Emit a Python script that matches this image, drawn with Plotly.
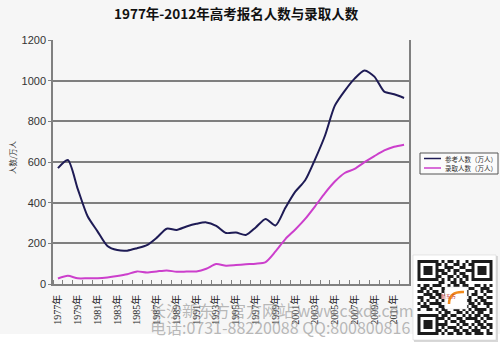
import plotly.graph_objects as go

# 1977-2012 national college entrance exam: applicants and admissions (10k people)
years = list(range(1977, 2013))
applicants = [570, 610, 468, 333, 259, 187, 167, 164, 176, 191, 228, 272,
              266, 283, 296, 303, 286, 251, 253, 241, 278, 320, 288, 375,
              454, 510, 613, 729, 877, 950, 1010, 1050, 1020, 946, 933, 915]
admitted = [27, 40, 28, 28, 28, 32, 39, 48, 62, 57, 62, 67,
            60, 61, 62, 75, 98, 90, 93, 97, 100, 108, 160, 221,
            268, 320, 382, 447, 504, 546, 566, 599, 629, 657, 675, 685]
series_names = ["参考人数（万人）", "录取人数（万人）"]
series_colors = ["#1e1b55", "#cc3fcc"]
y_ticks = [0, 200, 400, 600, 800, 1000, 1200]

W, H = 500, 346
L, R, T, B = 53, 91, 40, 62
PW, PH = W - L - R, H - T - B


def px(x):
    return (x - L) / PW


def py(y):
    return (H - B - y) / PH


idx = list(range(len(years)))
label_idx = idx[::2]
label_text = [f"{years[i]}年" for i in label_idx]

fig = go.Figure()
for vals, name, color in zip([applicants, admitted], series_names, series_colors):
    fig.add_trace(go.Scatter(x=idx, y=vals, mode="lines", name=name,
                             line=dict(color=color, width=2, shape="spline", smoothing=0.7),
                             showlegend=False))

shapes = []
annotations = []

# white strip at the bottom of the page
shapes.append(dict(type="rect", xref="paper", yref="paper", layer="below",
                   x0=px(0), x1=px(W), y0=py(334), y1=py(H),
                   fillcolor="white", line=dict(width=0)))

# legend box
shapes.append(dict(type="rect", xref="paper", yref="paper",
                   x0=px(420), x1=px(498), y0=py(153), y1=py(174),
                   fillcolor="#fbfbfb", line=dict(color="#555555", width=1)))
for k, (name, color) in enumerate(zip(series_names, series_colors)):
    yy = 158.5 + k * 9.5
    shapes.append(dict(type="line", xref="paper", yref="paper",
                       x0=px(424), x1=px(441), y0=py(yy), y1=py(yy),
                       line=dict(color=color, width=1.5)))
    annotations.append(dict(xref="paper", yref="paper", x=px(443), y=py(yy),
                            xanchor="left", yanchor="middle", showarrow=False,
                            text=name, font=dict(size=6.5, color="#333333",
                                                 family="Noto Sans CJK SC")))

# QR code card
shapes.append(dict(type="rect", xref="paper", yref="paper",
                   x0=px(414), x1=px(498), y0=py(256), y1=py(342),
                   fillcolor="#d8d8d8", line=dict(width=0)))
shapes.append(dict(type="rect", xref="paper", yref="paper",
                   x0=px(413), x1=px(496), y0=py(255), y1=py(340),
                   fillcolor="white", line=dict(color="#cccccc", width=0.5)))
qr_rows = [
    "1111111" + "01011010010" + "1111111",
    "1000001" + "10100110101" + "1000001",
    "1011101" + "00111001100" + "1011101",
    "1011101" + "11010110011" + "1011101",
    "1011101" + "01100101100" + "1011101",
    "1000001" + "10011010110" + "1000001",
    "1111111" + "01010101010" + "1111111",
    "0000000" + "11001101100" + "0000000",
    "1011011100101101100110101",
    "0110100011010011011001110",
    "1101011010110110100101011",
    "0011101101000011101100100",
    "1100110100000001010011011",
    "0101001010000000110101100",
    "1010111100000000011010111",
    "0111000110111010101100010",
    "1001101011001101010111101",
    "0000000" + "10110011010" + "1011001",
    "1111111" + "01101100101" + "0110110",
    "1000001" + "11010011011" + "1101011",
    "1011101" + "00101101100" + "0110100",
    "1011101" + "11100010110" + "1011011",
    "1011101" + "01011101001" + "0101101",
    "1000001" + "10100110110" + "1110010",
    "1111111" + "01011011011" + "0111011",
]
qx0, qy0, mod = 417.5, 260, 3.0
for r, row in enumerate(qr_rows):
    c = 0
    while c < len(row):
        if row[c] == "1":
            c1 = c
            while c1 + 1 < len(row) and row[c1 + 1] == "1":
                c1 += 1
            shapes.append(dict(type="rect", xref="paper", yref="paper",
                               x0=px(qx0 + c * mod), x1=px(qx0 + (c1 + 1) * mod),
                               y0=py(qy0 + r * mod), y1=py(qy0 + (r + 1) * mod),
                               fillcolor="#1c1c1c", line=dict(width=0)))
            c = c1 + 1
        else:
            c += 1
# logo in the middle of the code
shapes.append(dict(type="rect", xref="paper", yref="paper",
                   x0=px(445), x1=px(467), y0=py(287), y1=py(309),
                   fillcolor="white", line=dict(color="#dddddd", width=0.5)))
shapes.append(dict(type="path", xref="paper", yref="paper",
                   path=f"M {px(449)},{py(304)} Q {px(449)},{py(291)} {px(464)},{py(292)}",
                   line=dict(color="#f08a1c", width=2.5)))
annotations.append(dict(xref="paper", yref="paper", x=px(458), y=py(302),
                        showarrow=False, text="新东方",
                        font=dict(size=5, color="#c0261c", family="Noto Sans CJK SC")))

# watermark
for text, yy in [("长沙新东方官方网站 www.csxdf.com", 310),
                 ("电话:0731-88220088 QQ:800800816", 327)]:
    annotations.append(dict(xref="paper", yref="paper", x=px(148), y=py(yy),
                            xanchor="left", yanchor="middle", showarrow=False,
                            text=text, font=dict(size=16, color="rgba(140,140,140,0.6)",
                                                 family="Noto Sans CJK SC")))

# title and y-axis title
annotations.append(dict(xref="paper", yref="paper", x=px(236), y=py(13),
                        xanchor="center", yanchor="middle", showarrow=False,
                        text="<b>1977年-2012年高考报名人数与录取人数</b>",
                        font=dict(size=13.5, color="#111111", family="Noto Sans CJK SC")))
annotations.append(dict(xref="paper", yref="paper", x=px(12), y=py(158),
                        xanchor="center", yanchor="middle", showarrow=False,
                        text="人数/万人", textangle=-90,
                        font=dict(size=7.5, color="#333333", family="Noto Sans CJK SC")))

fig.update_layout(
    width=W, height=H,
    margin=dict(l=L, r=R, t=T, b=B, pad=0),
    paper_bgcolor="#f6f6f6",
    plot_bgcolor="#f6f6f6",
    shapes=shapes,
    annotations=annotations,
    xaxis=dict(range=[-0.5, len(years) - 0.5], tickmode="array",
               tickvals=label_idx, ticktext=label_text, tickangle=-90,
               ticks="outside", ticklen=5, tickcolor="rgba(0,0,0,0)",
               showgrid=False, zeroline=False,
               showline=True, linecolor="#808080", linewidth=1.5,
               tickfont=dict(size=10, color="#222222",
                             family="Liberation Serif, Noto Sans CJK SC"),
               minor=dict(tickmode="array", tickvals=[i - 0.5 for i in range(len(years) + 1)],
                          ticks="inside", ticklen=4, tickcolor="#808080", tickwidth=1,
                          showgrid=False)),
    yaxis=dict(range=[0, 1200], tickmode="array", tickvals=y_ticks,
               ticks="outside", ticklen=3, tickcolor="#808080",
               showgrid=True, gridcolor="#7f7f7f", gridwidth=1.5,
               zeroline=False, showline=True, linecolor="#808080", linewidth=1.5,
               mirror=True,
               tickfont=dict(size=11, color="#333333", family="Liberation Sans")),
)

fig.write_html("out.html")
